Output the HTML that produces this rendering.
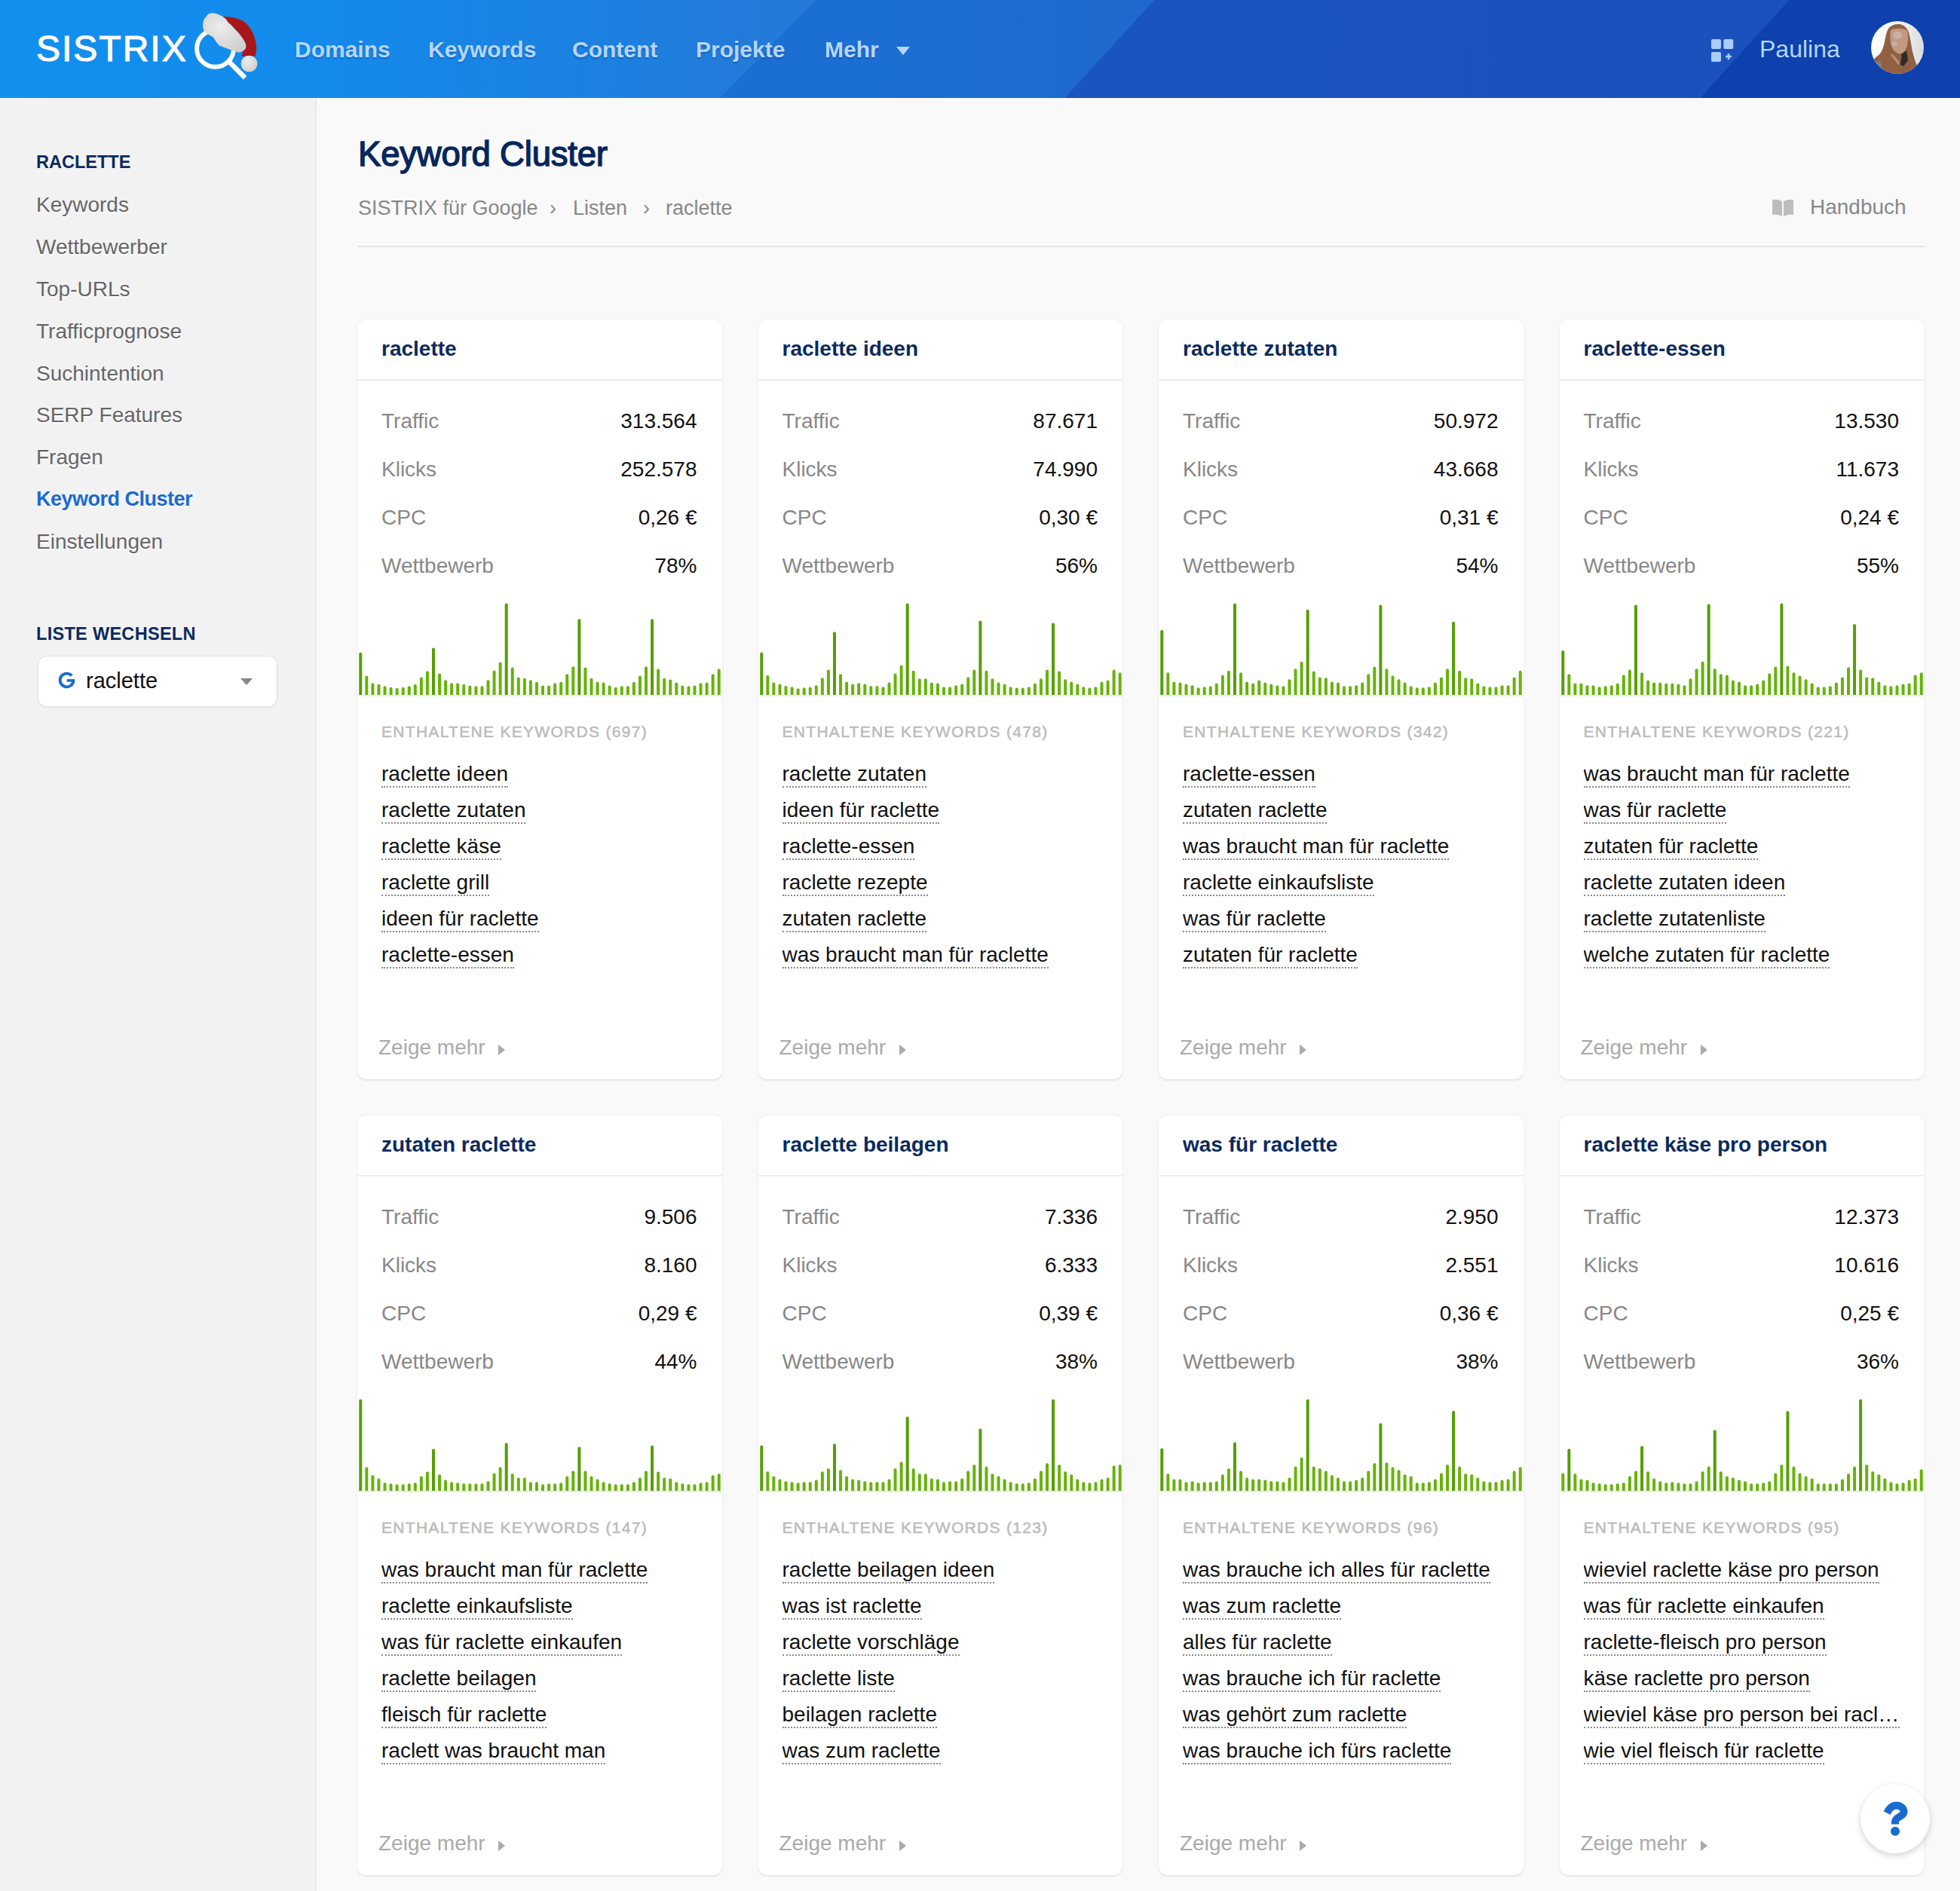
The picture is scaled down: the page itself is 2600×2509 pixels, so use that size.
<!DOCTYPE html>
<html><head><meta charset="utf-8"><title>Keyword Cluster</title>
<style>
*{box-sizing:border-box;margin:0;padding:0}
html,body{width:2600px;height:2509px;overflow:hidden;background:#f9f9f9;font-family:"Liberation Sans",sans-serif;}
.abs{position:absolute;white-space:nowrap;line-height:1}
#hdr{position:absolute;left:0;top:0;width:2600px;height:130px;background:#1190ee;overflow:hidden}
#hdr .band{position:absolute;left:0;top:0;width:2600px;height:130px}
#side{position:absolute;left:0;top:130px;width:420px;height:2379px;background:#f2f2f2;border-right:2px solid #e9e9e9}
.nav{position:absolute;top:51px;font-size:30px;font-weight:bold;color:#b5d6ff;line-height:1;text-shadow:0 2px 2px rgba(0,40,120,.35)}
.si{position:absolute;left:48px;font-size:28px;color:#666;line-height:1;text-shadow:0 2px 0 #fff;white-space:nowrap}
.sh{position:absolute;left:48px;font-size:23.5px;font-weight:bold;color:#0b2a5e;line-height:1;letter-spacing:0px;white-space:nowrap}
.card{position:absolute;width:483.5px;height:1008px;background:#fff;border-radius:12px;box-shadow:0 2px 2px rgba(0,0,0,.06),0 0 4px rgba(0,0,0,.05)}
.ct{position:absolute;left:32px;top:25px;font-size:28px;font-weight:bold;color:#0b2a5e;line-height:1;white-space:nowrap}
.card:before{content:"";position:absolute;left:0;right:0;top:79px;height:2px;background:#ededed}
.row{position:absolute;left:32px;right:33px;height:28px;font-size:28px;line-height:1}
.lb{position:absolute;left:0;top:0;color:#888}
.vl{position:absolute;right:0;top:0;color:#111}
.chwrap{position:absolute;left:0;top:376px;width:484px;height:124px}
.chart{display:block}
.enth{position:absolute;left:32px;top:536px;font-size:21px;line-height:1;color:#bbb;letter-spacing:1.3px;-webkit-text-stroke:0.5px #bbb;white-space:nowrap}
.kw{position:absolute;left:32px;right:32px;font-size:28px;line-height:1;color:#111;white-space:nowrap;overflow:hidden;text-overflow:ellipsis;height:34px}
.kw span{border-bottom:2px dotted #8a8a8a;padding-bottom:1px}
.more{position:absolute;left:28px;top:951.6px;font-size:28px;line-height:1;color:#aaa;white-space:nowrap}
.tri{position:absolute;left:159px;top:10px;width:0;height:0;border-left:9px solid #aaa;border-top:7.5px solid transparent;border-bottom:7.5px solid transparent}
</style></head>
<body>
<div id="hdr">
  <div class="band" style="background:linear-gradient(90deg,#1190ee 0%,#138bec 15%,#1d80e0 32%,#2679d8 41%)"></div>
  <div class="band" style="background:linear-gradient(90deg,#1b73d6 0%,#1c6fd2 45%,#2068cc 58%);clip-path:polygon(1082px 0,1531px 0,1412px 130px,955px 130px)"></div>
  <div class="band" style="background:linear-gradient(90deg,#1858c2 0%,#1a55bf 60%,#1a4fbb 100%);clip-path:polygon(1531px 0,2373px 0,2255px 130px,1412px 130px)"></div>
  <div class="band" style="background:#0e40ae;clip-path:polygon(2373px 0,2600px 0,2600px 130px,2255px 130px)"></div>
  <div class="abs" style="left:48px;top:41px;font-size:48px;font-weight:normal;color:#fff;letter-spacing:2px;-webkit-text-stroke:1.1px #fff">SISTRIX</div>
  <svg class="abs" style="left:250px;top:0px" width="110" height="120" viewBox="250 0 110 120">
    <defs><filter id="fluff" x="-20%" y="-20%" width="140%" height="140%"><feGaussianBlur stdDeviation="0.7"/></filter>
    <radialGradient id="furg" cx="40%" cy="35%" r="70%"><stop offset="0" stop-color="#ececec"/><stop offset="1" stop-color="#cfcfcf"/></radialGradient></defs>
    <circle cx="285.5" cy="64.4" r="24.4" fill="none" stroke="#fff" stroke-width="5.9"/>
    <line x1="302" y1="80" x2="325.1" y2="103.3" stroke="#fff" stroke-width="6.5"/>
    <path d="M295.4 21.9 C305 22 314 23.5 321 27 C330 32 336 42 339 55 C341 63 340 70 338.4 74.5 L320.4 74.5 C322 68 325 62 325.6 57.4 C322 50 316 43 314 41 C310 36 304 31 302.4 29.4 Z" fill="#a8161b"/>
    <path d="M277.9 17.8 C284 16 290 19 295.4 21.9 C300 25 302 28 302.4 29.4 C308 34 311 38 314 41 C319 46 323 52 325.6 57.4 C327 61 326.5 64 324.5 66 C321 69 317 70 314 69 C309 67 305 66 301 64.3 C296 62.5 292 61 290.7 60.3 C287 57 285 52 282.6 49.2 C279 47 276 46 274.4 44.6 C271 42 270 41 270.4 39.9 C269 36 268.5 33 269.2 31.2 C270 27 271 24 273.3 22.5 C275 20 276 19 277.9 17.8 Z" fill="url(#furg)" filter="url(#fluff)"/>
    <circle cx="330.5" cy="84.5" r="10.8" fill="url(#furg)" filter="url(#fluff)"/>
  </svg>
  <div class="nav" style="left:391px">Domains</div>
  <div class="nav" style="left:568px">Keywords</div>
  <div class="nav" style="left:759px">Content</div>
  <div class="nav" style="left:923px">Projekte</div>
  <div class="nav" style="left:1094px">Mehr</div>
  <div class="abs" style="left:1189px;top:62px;width:0;height:0;border-top:11px solid #b5d6ff;border-left:9.5px solid transparent;border-right:9.5px solid transparent"></div>
  <svg class="abs" style="left:2268px;top:50px" width="34" height="34" viewBox="0 0 34 34">
    <rect x="2" y="2" width="13" height="13" rx="2" fill="#a9cdfd"/>
    <rect x="18.3" y="2" width="13" height="13" rx="2" fill="#a9cdfd"/>
    <rect x="2" y="19" width="13" height="13" rx="2" fill="#a9cdfd"/>
    <path d="M25 21v8M21 25h8" stroke="#a9cdfd" stroke-width="2.6"/>
  </svg>
  <div class="abs" style="left:2334px;top:49px;font-size:32px;color:#b5d6ff">Paulina</div>
  <svg class="abs" style="left:2482px;top:28px" width="70" height="70" viewBox="0 0 70 70">
    <defs><clipPath id="avc"><circle cx="35" cy="35" r="35"/></clipPath>
    <linearGradient id="avbg" x1="0" x2="1"><stop offset="0" stop-color="#fdfdfd"/><stop offset=".6" stop-color="#f0f0f0"/><stop offset="1" stop-color="#dcdcdc"/></linearGradient></defs>
    <g clip-path="url(#avc)">
      <rect width="70" height="70" fill="url(#avbg)"/>
      <path d="M36.5 4 C30 4 25 7 23 10 C20 15 19 22 18 28 C16 36 14 42 9 46 C6 48 4 50 2 54 L2 70 L70 70 L62 62 C59 55 56 45 54.5 38 C53 30 52 22 50 15 C48 9 43 4 36.5 4 Z" fill="#8f6142"/>
      <path d="M26 12 C30 9 44 9 48 13 C50 22 49 33 45 39 C42 43 39 44 36 43 C31 41 27 36 26 28 C25 22 25 16 26 12 Z" fill="#c39a81"/>
      <ellipse cx="35" cy="19" rx="6" ry="5" fill="#c8c6c6" opacity=".55"/>
      <ellipse cx="31" cy="30" rx="4" ry="2.5" fill="#cfcfd0" opacity=".45"/>
      <path d="M28 43 C32 47 36 52 39 56 L36 58 C33 54 29 49 26 45 Z" fill="#b98d74"/>
      <path d="M40 44 C43 42 46 40 47 39 L49 52 L43 60 L38 57 C40 52 41 48 40 44 Z" fill="#2e2a28"/>
      <path d="M2 56 L12 52 L17 70 L2 70 Z" fill="#7d7d7d"/>
    </g>
  </svg>
</div>

<div id="side">
  <div class="sh" style="top:74px">RACLETTE</div>
  <div class="si" style="top:128px">Keywords</div>
  <div class="si" style="top:184px">Wettbewerber</div>
  <div class="si" style="top:240px">Top-URLs</div>
  <div class="si" style="top:296px">Trafficprognose</div>
  <div class="si" style="top:352px">Suchintention</div>
  <div class="si" style="top:407px">SERP Features</div>
  <div class="si" style="top:463px">Fragen</div>
  <div class="si" style="top:519px;color:#1a6bd0;font-weight:bold;font-size:27px;letter-spacing:-0.5px">Keyword Cluster</div>
  <div class="si" style="top:575px">Einstellungen</div>
  <div class="sh" style="top:700px;letter-spacing:0.3px">LISTE WECHSELN</div>
  <div class="abs" style="left:50px;top:740px;width:318px;height:68px;background:#fff;border:1px solid #e2e2e2;border-radius:12px;box-shadow:0 1px 2px rgba(0,0,0,.06)"></div>
  <svg class="abs" style="left:70px;top:750px" width="40" height="40" viewBox="70 880 40 40">
    <path d="M95.2 896.6 A8.9 8.9 0 1 0 97.4 902.9" fill="none" stroke="#1a6bd0" stroke-width="3.8"/>
    <path d="M88.6 902.9 H99.2" stroke="#1a6bd0" stroke-width="3.6"/>
  </svg>
  <div class="abs" style="left:114px;top:758.5px;font-size:29px;color:#111">raclette</div>
  <div class="abs" style="left:319px;top:770px;width:0;height:0;border-top:9.5px solid #888;border-left:8px solid transparent;border-right:8px solid transparent"></div>
</div>

<div class="abs" style="left:475px;top:182px;font-size:45.5px;font-weight:normal;color:#06265c;letter-spacing:-0.2px;-webkit-text-stroke:1.4px #06265c">Keyword Cluster</div>
<div class="abs" style="left:475px;top:263px;font-size:27px;color:#888">SISTRIX für Google</div>
<div class="abs" style="left:729px;top:263px;font-size:27px;color:#888">›</div>
<div class="abs" style="left:760px;top:263px;font-size:27px;color:#888">Listen</div>
<div class="abs" style="left:853px;top:263px;font-size:27px;color:#888">›</div>
<div class="abs" style="left:883px;top:263px;font-size:27px;color:#888">raclette</div>
<svg class="abs" style="left:2351px;top:264px" width="29" height="23" viewBox="0 0 29 23">
  <path d="M0 1 Q7 0 13 3 V23 Q7 20 0 21 Z M15 3 Q21 0 28 1 V21 Q21 20 15 23 Z" fill="#bdbdbd"/>
</svg>
<div class="abs" style="left:2401px;top:261px;font-size:28px;color:#888">Handbuch</div>
<div class="abs" style="left:474px;top:326px;width:2078px;height:2px;background:#e3e3e3"></div>

<div class="card" style="left:474.0px;top:424px">
<div class="ct">raclette</div>
<div class="row" style="top:121.3px"><span class="lb">Traffic</span><span class="vl">313.564</span></div>
<div class="row" style="top:185.3px"><span class="lb">Klicks</span><span class="vl">252.578</span></div>
<div class="row" style="top:249.3px"><span class="lb">CPC</span><span class="vl">0,26 €</span></div>
<div class="row" style="top:313.3px"><span class="lb">Wettbewerb</span><span class="vl">78%</span></div>
<div class="chwrap"><svg class="chart" width="484" height="124" viewBox="0 0 483.5 124"><rect x="2.03" y="65.64" width="4" height="58.36" rx="2" fill="#559e06"/><rect x="10.09" y="96.48" width="4" height="27.52" rx="2" fill="#66b30a"/><rect x="18.15" y="106.31" width="4" height="17.69" rx="2" fill="#66b30a"/><rect x="26.20" y="107.64" width="4" height="16.36" rx="2" fill="#66b30a"/><rect x="34.26" y="110.30" width="4" height="13.70" rx="2" fill="#66b30a"/><rect x="42.32" y="111.63" width="4" height="12.37" rx="2" fill="#66b30a"/><rect x="50.38" y="112.69" width="4" height="11.31" rx="2" fill="#66b30a"/><rect x="58.44" y="111.63" width="4" height="12.37" rx="2" fill="#66b30a"/><rect x="66.50" y="110.30" width="4" height="13.70" rx="2" fill="#66b30a"/><rect x="74.55" y="107.64" width="4" height="16.36" rx="2" fill="#66b30a"/><rect x="82.61" y="98.60" width="4" height="25.40" rx="2" fill="#66b30a"/><rect x="90.67" y="90.36" width="4" height="33.64" rx="2" fill="#66b30a"/><rect x="98.73" y="59.52" width="4" height="64.48" rx="2" fill="#559e06"/><rect x="106.79" y="93.55" width="4" height="30.45" rx="2" fill="#66b30a"/><rect x="114.85" y="102.33" width="4" height="21.67" rx="2" fill="#66b30a"/><rect x="122.90" y="106.31" width="4" height="17.69" rx="2" fill="#66b30a"/><rect x="130.96" y="106.31" width="4" height="17.69" rx="2" fill="#66b30a"/><rect x="139.02" y="107.64" width="4" height="16.36" rx="2" fill="#66b30a"/><rect x="147.08" y="109.50" width="4" height="14.50" rx="2" fill="#66b30a"/><rect x="155.14" y="110.30" width="4" height="13.70" rx="2" fill="#66b30a"/><rect x="163.20" y="110.30" width="4" height="13.70" rx="2" fill="#66b30a"/><rect x="171.25" y="102.33" width="4" height="21.67" rx="2" fill="#66b30a"/><rect x="179.31" y="89.56" width="4" height="34.44" rx="2" fill="#66b30a"/><rect x="187.37" y="78.40" width="4" height="45.60" rx="2" fill="#66b30a"/><rect x="195.43" y="0.50" width="4" height="123.50" rx="2" fill="#559e06"/><rect x="203.49" y="85.58" width="4" height="38.42" rx="2" fill="#66b30a"/><rect x="211.55" y="98.60" width="4" height="25.40" rx="2" fill="#66b30a"/><rect x="219.60" y="99.67" width="4" height="24.33" rx="2" fill="#66b30a"/><rect x="227.66" y="102.33" width="4" height="21.67" rx="2" fill="#66b30a"/><rect x="235.72" y="104.72" width="4" height="19.28" rx="2" fill="#66b30a"/><rect x="243.78" y="109.50" width="4" height="14.50" rx="2" fill="#66b30a"/><rect x="251.84" y="109.50" width="4" height="14.50" rx="2" fill="#66b30a"/><rect x="259.90" y="106.31" width="4" height="17.69" rx="2" fill="#66b30a"/><rect x="267.95" y="104.72" width="4" height="19.28" rx="2" fill="#66b30a"/><rect x="276.01" y="94.35" width="4" height="29.65" rx="2" fill="#66b30a"/><rect x="284.07" y="84.25" width="4" height="39.75" rx="2" fill="#66b30a"/><rect x="292.13" y="21.24" width="4" height="102.76" rx="2" fill="#559e06"/><rect x="300.19" y="85.58" width="4" height="38.42" rx="2" fill="#66b30a"/><rect x="308.25" y="99.67" width="4" height="24.33" rx="2" fill="#66b30a"/><rect x="316.30" y="104.72" width="4" height="19.28" rx="2" fill="#66b30a"/><rect x="324.36" y="105.52" width="4" height="18.48" rx="2" fill="#66b30a"/><rect x="332.42" y="109.50" width="4" height="14.50" rx="2" fill="#66b30a"/><rect x="340.48" y="111.63" width="4" height="12.37" rx="2" fill="#66b30a"/><rect x="348.54" y="110.30" width="4" height="13.70" rx="2" fill="#66b30a"/><rect x="356.60" y="110.30" width="4" height="13.70" rx="2" fill="#66b30a"/><rect x="364.65" y="104.72" width="4" height="19.28" rx="2" fill="#66b30a"/><rect x="372.71" y="96.48" width="4" height="27.52" rx="2" fill="#66b30a"/><rect x="380.77" y="84.25" width="4" height="39.75" rx="2" fill="#66b30a"/><rect x="388.83" y="21.24" width="4" height="102.76" rx="2" fill="#559e06"/><rect x="396.89" y="87.44" width="4" height="36.56" rx="2" fill="#66b30a"/><rect x="404.95" y="99.67" width="4" height="24.33" rx="2" fill="#66b30a"/><rect x="413.00" y="101.53" width="4" height="22.47" rx="2" fill="#66b30a"/><rect x="421.06" y="105.52" width="4" height="18.48" rx="2" fill="#66b30a"/><rect x="429.12" y="109.50" width="4" height="14.50" rx="2" fill="#66b30a"/><rect x="437.18" y="110.30" width="4" height="13.70" rx="2" fill="#66b30a"/><rect x="445.24" y="109.50" width="4" height="14.50" rx="2" fill="#66b30a"/><rect x="453.30" y="106.31" width="4" height="17.69" rx="2" fill="#66b30a"/><rect x="461.35" y="105.52" width="4" height="18.48" rx="2" fill="#66b30a"/><rect x="469.41" y="94.35" width="4" height="29.65" rx="2" fill="#66b30a"/><rect x="477.47" y="87.44" width="4" height="36.56" rx="2" fill="#66b30a"/><rect x="0" y="122" width="483.5" height="2" fill="#ececec"/></svg></div>
<div class="enth">ENTHALTENE KEYWORDS (697)</div>
<div class="kw" style="top:589.3px"><span>raclette ideen</span></div>
<div class="kw" style="top:637.3px"><span>raclette zutaten</span></div>
<div class="kw" style="top:685.3px"><span>raclette käse</span></div>
<div class="kw" style="top:733.3px"><span>raclette grill</span></div>
<div class="kw" style="top:781.3px"><span>ideen für raclette</span></div>
<div class="kw" style="top:829.3px"><span>raclette-essen</span></div>
<div class="more">Zeige mehr <i class="tri"></i></div>
</div>
<div class="card" style="left:1005.5px;top:424px">
<div class="ct">raclette ideen</div>
<div class="row" style="top:121.3px"><span class="lb">Traffic</span><span class="vl">87.671</span></div>
<div class="row" style="top:185.3px"><span class="lb">Klicks</span><span class="vl">74.990</span></div>
<div class="row" style="top:249.3px"><span class="lb">CPC</span><span class="vl">0,30 €</span></div>
<div class="row" style="top:313.3px"><span class="lb">Wettbewerb</span><span class="vl">56%</span></div>
<div class="chwrap"><svg class="chart" width="484" height="124" viewBox="0 0 483.5 124"><rect x="2.03" y="65.45" width="4" height="58.55" rx="2" fill="#559e06"/><rect x="10.09" y="96.02" width="4" height="27.98" rx="2" fill="#66b30a"/><rect x="18.15" y="105.44" width="4" height="18.56" rx="2" fill="#66b30a"/><rect x="26.20" y="107.48" width="4" height="16.52" rx="2" fill="#66b30a"/><rect x="34.26" y="110.03" width="4" height="13.97" rx="2" fill="#66b30a"/><rect x="42.32" y="111.30" width="4" height="12.70" rx="2" fill="#66b30a"/><rect x="50.38" y="113.34" width="4" height="10.66" rx="2" fill="#66b30a"/><rect x="58.44" y="112.32" width="4" height="11.68" rx="2" fill="#66b30a"/><rect x="66.50" y="111.56" width="4" height="12.44" rx="2" fill="#66b30a"/><rect x="74.55" y="109.26" width="4" height="14.74" rx="2" fill="#66b30a"/><rect x="82.61" y="99.33" width="4" height="24.67" rx="2" fill="#66b30a"/><rect x="90.67" y="88.38" width="4" height="35.62" rx="2" fill="#66b30a"/><rect x="98.73" y="38.20" width="4" height="85.80" rx="2" fill="#559e06"/><rect x="106.79" y="94.24" width="4" height="29.76" rx="2" fill="#66b30a"/><rect x="114.85" y="104.42" width="4" height="19.58" rx="2" fill="#66b30a"/><rect x="122.90" y="107.48" width="4" height="16.52" rx="2" fill="#66b30a"/><rect x="130.96" y="106.21" width="4" height="17.79" rx="2" fill="#66b30a"/><rect x="139.02" y="107.48" width="4" height="16.52" rx="2" fill="#66b30a"/><rect x="147.08" y="110.03" width="4" height="13.97" rx="2" fill="#66b30a"/><rect x="155.14" y="110.03" width="4" height="13.97" rx="2" fill="#66b30a"/><rect x="163.20" y="111.30" width="4" height="12.70" rx="2" fill="#66b30a"/><rect x="171.25" y="105.44" width="4" height="18.56" rx="2" fill="#66b30a"/><rect x="179.31" y="93.47" width="4" height="30.53" rx="2" fill="#66b30a"/><rect x="187.37" y="82.52" width="4" height="41.48" rx="2" fill="#66b30a"/><rect x="195.43" y="0.50" width="4" height="123.50" rx="2" fill="#559e06"/><rect x="203.49" y="89.65" width="4" height="34.35" rx="2" fill="#66b30a"/><rect x="211.55" y="100.35" width="4" height="23.65" rx="2" fill="#66b30a"/><rect x="219.60" y="100.35" width="4" height="23.65" rx="2" fill="#66b30a"/><rect x="227.66" y="105.44" width="4" height="18.56" rx="2" fill="#66b30a"/><rect x="235.72" y="106.46" width="4" height="17.54" rx="2" fill="#66b30a"/><rect x="243.78" y="111.30" width="4" height="12.70" rx="2" fill="#66b30a"/><rect x="251.84" y="111.30" width="4" height="12.70" rx="2" fill="#66b30a"/><rect x="259.90" y="109.26" width="4" height="14.74" rx="2" fill="#66b30a"/><rect x="267.95" y="107.48" width="4" height="16.52" rx="2" fill="#66b30a"/><rect x="276.01" y="98.57" width="4" height="25.43" rx="2" fill="#66b30a"/><rect x="284.07" y="88.38" width="4" height="35.62" rx="2" fill="#66b30a"/><rect x="292.13" y="23.42" width="4" height="100.58" rx="2" fill="#559e06"/><rect x="300.19" y="89.65" width="4" height="34.35" rx="2" fill="#66b30a"/><rect x="308.25" y="100.35" width="4" height="23.65" rx="2" fill="#66b30a"/><rect x="316.30" y="105.44" width="4" height="18.56" rx="2" fill="#66b30a"/><rect x="324.36" y="107.48" width="4" height="16.52" rx="2" fill="#66b30a"/><rect x="332.42" y="111.30" width="4" height="12.70" rx="2" fill="#66b30a"/><rect x="340.48" y="112.58" width="4" height="11.42" rx="2" fill="#66b30a"/><rect x="348.54" y="112.58" width="4" height="11.42" rx="2" fill="#66b30a"/><rect x="356.60" y="111.30" width="4" height="12.70" rx="2" fill="#66b30a"/><rect x="364.65" y="106.46" width="4" height="17.54" rx="2" fill="#66b30a"/><rect x="372.71" y="100.35" width="4" height="23.65" rx="2" fill="#66b30a"/><rect x="380.77" y="88.38" width="4" height="35.62" rx="2" fill="#66b30a"/><rect x="388.83" y="26.48" width="4" height="97.52" rx="2" fill="#559e06"/><rect x="396.89" y="90.42" width="4" height="33.58" rx="2" fill="#66b30a"/><rect x="404.95" y="101.37" width="4" height="22.63" rx="2" fill="#66b30a"/><rect x="413.00" y="104.42" width="4" height="19.58" rx="2" fill="#66b30a"/><rect x="421.06" y="107.48" width="4" height="16.52" rx="2" fill="#66b30a"/><rect x="429.12" y="111.30" width="4" height="12.70" rx="2" fill="#66b30a"/><rect x="437.18" y="112.58" width="4" height="11.42" rx="2" fill="#66b30a"/><rect x="445.24" y="111.30" width="4" height="12.70" rx="2" fill="#66b30a"/><rect x="453.30" y="104.42" width="4" height="19.58" rx="2" fill="#66b30a"/><rect x="461.35" y="102.39" width="4" height="21.61" rx="2" fill="#66b30a"/><rect x="469.41" y="88.38" width="4" height="35.62" rx="2" fill="#66b30a"/><rect x="477.47" y="92.20" width="4" height="31.80" rx="2" fill="#66b30a"/><rect x="0" y="122" width="483.5" height="2" fill="#ececec"/></svg></div>
<div class="enth">ENTHALTENE KEYWORDS (478)</div>
<div class="kw" style="top:589.3px"><span>raclette zutaten</span></div>
<div class="kw" style="top:637.3px"><span>ideen für raclette</span></div>
<div class="kw" style="top:685.3px"><span>raclette-essen</span></div>
<div class="kw" style="top:733.3px"><span>raclette rezepte</span></div>
<div class="kw" style="top:781.3px"><span>zutaten raclette</span></div>
<div class="kw" style="top:829.3px"><span>was braucht man für raclette</span></div>
<div class="more">Zeige mehr <i class="tri"></i></div>
</div>
<div class="card" style="left:1537.0px;top:424px">
<div class="ct">raclette zutaten</div>
<div class="row" style="top:121.3px"><span class="lb">Traffic</span><span class="vl">50.972</span></div>
<div class="row" style="top:185.3px"><span class="lb">Klicks</span><span class="vl">43.668</span></div>
<div class="row" style="top:249.3px"><span class="lb">CPC</span><span class="vl">0,31 €</span></div>
<div class="row" style="top:313.3px"><span class="lb">Wettbewerb</span><span class="vl">54%</span></div>
<div class="chwrap"><svg class="chart" width="484" height="124" viewBox="0 0 483.5 124"><rect x="2.03" y="35.65" width="4" height="88.35" rx="2" fill="#559e06"/><rect x="10.09" y="92.20" width="4" height="31.80" rx="2" fill="#66b30a"/><rect x="18.15" y="104.42" width="4" height="19.58" rx="2" fill="#66b30a"/><rect x="26.20" y="105.44" width="4" height="18.56" rx="2" fill="#66b30a"/><rect x="34.26" y="107.48" width="4" height="16.52" rx="2" fill="#66b30a"/><rect x="42.32" y="109.26" width="4" height="14.74" rx="2" fill="#66b30a"/><rect x="50.38" y="112.32" width="4" height="11.68" rx="2" fill="#66b30a"/><rect x="58.44" y="111.30" width="4" height="12.70" rx="2" fill="#66b30a"/><rect x="66.50" y="110.28" width="4" height="13.72" rx="2" fill="#66b30a"/><rect x="74.55" y="106.46" width="4" height="17.54" rx="2" fill="#66b30a"/><rect x="82.61" y="95.51" width="4" height="28.49" rx="2" fill="#66b30a"/><rect x="90.67" y="89.65" width="4" height="34.35" rx="2" fill="#66b30a"/><rect x="98.73" y="0.50" width="4" height="123.50" rx="2" fill="#559e06"/><rect x="106.79" y="92.20" width="4" height="31.80" rx="2" fill="#66b30a"/><rect x="114.85" y="104.42" width="4" height="19.58" rx="2" fill="#66b30a"/><rect x="122.90" y="106.46" width="4" height="17.54" rx="2" fill="#66b30a"/><rect x="130.96" y="102.39" width="4" height="21.61" rx="2" fill="#66b30a"/><rect x="139.02" y="105.44" width="4" height="18.56" rx="2" fill="#66b30a"/><rect x="147.08" y="107.48" width="4" height="16.52" rx="2" fill="#66b30a"/><rect x="155.14" y="109.26" width="4" height="14.74" rx="2" fill="#66b30a"/><rect x="163.20" y="110.28" width="4" height="13.72" rx="2" fill="#66b30a"/><rect x="171.25" y="101.37" width="4" height="22.63" rx="2" fill="#66b30a"/><rect x="179.31" y="87.36" width="4" height="36.64" rx="2" fill="#66b30a"/><rect x="187.37" y="77.68" width="4" height="46.32" rx="2" fill="#66b30a"/><rect x="195.43" y="8.65" width="4" height="115.35" rx="2" fill="#559e06"/><rect x="203.49" y="90.42" width="4" height="33.58" rx="2" fill="#66b30a"/><rect x="211.55" y="98.57" width="4" height="25.43" rx="2" fill="#66b30a"/><rect x="219.60" y="99.33" width="4" height="24.67" rx="2" fill="#66b30a"/><rect x="227.66" y="104.42" width="4" height="19.58" rx="2" fill="#66b30a"/><rect x="235.72" y="105.44" width="4" height="18.56" rx="2" fill="#66b30a"/><rect x="243.78" y="110.28" width="4" height="13.72" rx="2" fill="#66b30a"/><rect x="251.84" y="110.28" width="4" height="13.72" rx="2" fill="#66b30a"/><rect x="259.90" y="109.26" width="4" height="14.74" rx="2" fill="#66b30a"/><rect x="267.95" y="105.44" width="4" height="18.56" rx="2" fill="#66b30a"/><rect x="276.01" y="94.24" width="4" height="29.76" rx="2" fill="#66b30a"/><rect x="284.07" y="84.56" width="4" height="39.44" rx="2" fill="#66b30a"/><rect x="292.13" y="2.54" width="4" height="121.46" rx="2" fill="#559e06"/><rect x="300.19" y="87.36" width="4" height="36.64" rx="2" fill="#66b30a"/><rect x="308.25" y="96.53" width="4" height="27.47" rx="2" fill="#66b30a"/><rect x="316.30" y="101.37" width="4" height="22.63" rx="2" fill="#66b30a"/><rect x="324.36" y="105.44" width="4" height="18.56" rx="2" fill="#66b30a"/><rect x="332.42" y="110.28" width="4" height="13.72" rx="2" fill="#66b30a"/><rect x="340.48" y="112.32" width="4" height="11.68" rx="2" fill="#66b30a"/><rect x="348.54" y="112.32" width="4" height="11.68" rx="2" fill="#66b30a"/><rect x="356.60" y="111.30" width="4" height="12.70" rx="2" fill="#66b30a"/><rect x="364.65" y="105.44" width="4" height="18.56" rx="2" fill="#66b30a"/><rect x="372.71" y="98.57" width="4" height="25.43" rx="2" fill="#66b30a"/><rect x="380.77" y="87.36" width="4" height="36.64" rx="2" fill="#66b30a"/><rect x="388.83" y="24.70" width="4" height="99.30" rx="2" fill="#559e06"/><rect x="396.89" y="89.65" width="4" height="34.35" rx="2" fill="#66b30a"/><rect x="404.95" y="99.33" width="4" height="24.67" rx="2" fill="#66b30a"/><rect x="413.00" y="100.35" width="4" height="23.65" rx="2" fill="#66b30a"/><rect x="421.06" y="106.46" width="4" height="17.54" rx="2" fill="#66b30a"/><rect x="429.12" y="110.28" width="4" height="13.72" rx="2" fill="#66b30a"/><rect x="437.18" y="111.30" width="4" height="12.70" rx="2" fill="#66b30a"/><rect x="445.24" y="111.30" width="4" height="12.70" rx="2" fill="#66b30a"/><rect x="453.30" y="109.26" width="4" height="14.74" rx="2" fill="#66b30a"/><rect x="461.35" y="109.26" width="4" height="14.74" rx="2" fill="#66b30a"/><rect x="469.41" y="98.57" width="4" height="25.43" rx="2" fill="#66b30a"/><rect x="477.47" y="89.65" width="4" height="34.35" rx="2" fill="#66b30a"/><rect x="0" y="122" width="483.5" height="2" fill="#ececec"/></svg></div>
<div class="enth">ENTHALTENE KEYWORDS (342)</div>
<div class="kw" style="top:589.3px"><span>raclette-essen</span></div>
<div class="kw" style="top:637.3px"><span>zutaten raclette</span></div>
<div class="kw" style="top:685.3px"><span>was braucht man für raclette</span></div>
<div class="kw" style="top:733.3px"><span>raclette einkaufsliste</span></div>
<div class="kw" style="top:781.3px"><span>was für raclette</span></div>
<div class="kw" style="top:829.3px"><span>zutaten für raclette</span></div>
<div class="more">Zeige mehr <i class="tri"></i></div>
</div>
<div class="card" style="left:2068.5px;top:424px">
<div class="ct">raclette-essen</div>
<div class="row" style="top:121.3px"><span class="lb">Traffic</span><span class="vl">13.530</span></div>
<div class="row" style="top:185.3px"><span class="lb">Klicks</span><span class="vl">11.673</span></div>
<div class="row" style="top:249.3px"><span class="lb">CPC</span><span class="vl">0,24 €</span></div>
<div class="row" style="top:313.3px"><span class="lb">Wettbewerb</span><span class="vl">55%</span></div>
<div class="chwrap"><svg class="chart" width="484" height="124" viewBox="0 0 483.5 124"><rect x="2.03" y="62.91" width="4" height="61.09" rx="2" fill="#559e06"/><rect x="10.09" y="94.24" width="4" height="29.76" rx="2" fill="#66b30a"/><rect x="18.15" y="106.46" width="4" height="17.54" rx="2" fill="#66b30a"/><rect x="26.20" y="106.46" width="4" height="17.54" rx="2" fill="#66b30a"/><rect x="34.26" y="109.26" width="4" height="14.74" rx="2" fill="#66b30a"/><rect x="42.32" y="109.26" width="4" height="14.74" rx="2" fill="#66b30a"/><rect x="50.38" y="111.30" width="4" height="12.70" rx="2" fill="#66b30a"/><rect x="58.44" y="110.28" width="4" height="13.72" rx="2" fill="#66b30a"/><rect x="66.50" y="109.26" width="4" height="14.74" rx="2" fill="#66b30a"/><rect x="74.55" y="106.46" width="4" height="17.54" rx="2" fill="#66b30a"/><rect x="82.61" y="95.51" width="4" height="28.49" rx="2" fill="#66b30a"/><rect x="90.67" y="88.38" width="4" height="35.62" rx="2" fill="#66b30a"/><rect x="98.73" y="2.54" width="4" height="121.46" rx="2" fill="#559e06"/><rect x="106.79" y="92.20" width="4" height="31.80" rx="2" fill="#66b30a"/><rect x="114.85" y="102.39" width="4" height="21.61" rx="2" fill="#66b30a"/><rect x="122.90" y="105.44" width="4" height="18.56" rx="2" fill="#66b30a"/><rect x="130.96" y="105.44" width="4" height="18.56" rx="2" fill="#66b30a"/><rect x="139.02" y="106.46" width="4" height="17.54" rx="2" fill="#66b30a"/><rect x="147.08" y="106.46" width="4" height="17.54" rx="2" fill="#66b30a"/><rect x="155.14" y="107.48" width="4" height="16.52" rx="2" fill="#66b30a"/><rect x="163.20" y="109.26" width="4" height="14.74" rx="2" fill="#66b30a"/><rect x="171.25" y="100.35" width="4" height="23.65" rx="2" fill="#66b30a"/><rect x="179.31" y="87.36" width="4" height="36.64" rx="2" fill="#66b30a"/><rect x="187.37" y="77.68" width="4" height="46.32" rx="2" fill="#66b30a"/><rect x="195.43" y="1.52" width="4" height="122.48" rx="2" fill="#559e06"/><rect x="203.49" y="87.36" width="4" height="36.64" rx="2" fill="#66b30a"/><rect x="211.55" y="94.24" width="4" height="29.76" rx="2" fill="#66b30a"/><rect x="219.60" y="95.51" width="4" height="28.49" rx="2" fill="#66b30a"/><rect x="227.66" y="102.39" width="4" height="21.61" rx="2" fill="#66b30a"/><rect x="235.72" y="104.42" width="4" height="19.58" rx="2" fill="#66b30a"/><rect x="243.78" y="109.26" width="4" height="14.74" rx="2" fill="#66b30a"/><rect x="251.84" y="109.26" width="4" height="14.74" rx="2" fill="#66b30a"/><rect x="259.90" y="107.48" width="4" height="16.52" rx="2" fill="#66b30a"/><rect x="267.95" y="102.39" width="4" height="21.61" rx="2" fill="#66b30a"/><rect x="276.01" y="93.47" width="4" height="30.53" rx="2" fill="#66b30a"/><rect x="284.07" y="84.56" width="4" height="39.44" rx="2" fill="#66b30a"/><rect x="292.13" y="0.50" width="4" height="123.50" rx="2" fill="#559e06"/><rect x="300.19" y="83.54" width="4" height="40.46" rx="2" fill="#66b30a"/><rect x="308.25" y="92.20" width="4" height="31.80" rx="2" fill="#66b30a"/><rect x="316.30" y="96.53" width="4" height="27.47" rx="2" fill="#66b30a"/><rect x="324.36" y="101.37" width="4" height="22.63" rx="2" fill="#66b30a"/><rect x="332.42" y="106.46" width="4" height="17.54" rx="2" fill="#66b30a"/><rect x="340.48" y="111.30" width="4" height="12.70" rx="2" fill="#66b30a"/><rect x="348.54" y="111.30" width="4" height="12.70" rx="2" fill="#66b30a"/><rect x="356.60" y="110.28" width="4" height="13.72" rx="2" fill="#66b30a"/><rect x="364.65" y="105.44" width="4" height="18.56" rx="2" fill="#66b30a"/><rect x="372.71" y="98.57" width="4" height="25.43" rx="2" fill="#66b30a"/><rect x="380.77" y="85.32" width="4" height="38.68" rx="2" fill="#66b30a"/><rect x="388.83" y="28.01" width="4" height="95.99" rx="2" fill="#559e06"/><rect x="396.89" y="88.38" width="4" height="35.62" rx="2" fill="#66b30a"/><rect x="404.95" y="98.57" width="4" height="25.43" rx="2" fill="#66b30a"/><rect x="413.00" y="99.33" width="4" height="24.67" rx="2" fill="#66b30a"/><rect x="421.06" y="104.42" width="4" height="19.58" rx="2" fill="#66b30a"/><rect x="429.12" y="109.26" width="4" height="14.74" rx="2" fill="#66b30a"/><rect x="437.18" y="110.28" width="4" height="13.72" rx="2" fill="#66b30a"/><rect x="445.24" y="109.26" width="4" height="14.74" rx="2" fill="#66b30a"/><rect x="453.30" y="107.48" width="4" height="16.52" rx="2" fill="#66b30a"/><rect x="461.35" y="106.46" width="4" height="17.54" rx="2" fill="#66b30a"/><rect x="469.41" y="95.51" width="4" height="28.49" rx="2" fill="#66b30a"/><rect x="477.47" y="92.20" width="4" height="31.80" rx="2" fill="#66b30a"/><rect x="0" y="122" width="483.5" height="2" fill="#ececec"/></svg></div>
<div class="enth">ENTHALTENE KEYWORDS (221)</div>
<div class="kw" style="top:589.3px"><span>was braucht man für raclette</span></div>
<div class="kw" style="top:637.3px"><span>was für raclette</span></div>
<div class="kw" style="top:685.3px"><span>zutaten für raclette</span></div>
<div class="kw" style="top:733.3px"><span>raclette zutaten ideen</span></div>
<div class="kw" style="top:781.3px"><span>raclette zutatenliste</span></div>
<div class="kw" style="top:829.3px"><span>welche zutaten für raclette</span></div>
<div class="more">Zeige mehr <i class="tri"></i></div>
</div>
<div class="card" style="left:474.0px;top:1480px">
<div class="ct">zutaten raclette</div>
<div class="row" style="top:121.3px"><span class="lb">Traffic</span><span class="vl">9.506</span></div>
<div class="row" style="top:185.3px"><span class="lb">Klicks</span><span class="vl">8.160</span></div>
<div class="row" style="top:249.3px"><span class="lb">CPC</span><span class="vl">0,29 €</span></div>
<div class="row" style="top:313.3px"><span class="lb">Wettbewerb</span><span class="vl">44%</span></div>
<div class="chwrap"><svg class="chart" width="484" height="124" viewBox="0 0 483.5 124"><rect x="2.03" y="0.50" width="4" height="123.50" rx="2" fill="#559e06"/><rect x="10.09" y="90.42" width="4" height="33.58" rx="2" fill="#66b30a"/><rect x="18.15" y="101.37" width="4" height="22.63" rx="2" fill="#66b30a"/><rect x="26.20" y="105.44" width="4" height="18.56" rx="2" fill="#66b30a"/><rect x="34.26" y="111.30" width="4" height="12.70" rx="2" fill="#66b30a"/><rect x="42.32" y="112.32" width="4" height="11.68" rx="2" fill="#66b30a"/><rect x="50.38" y="113.34" width="4" height="10.66" rx="2" fill="#66b30a"/><rect x="58.44" y="113.34" width="4" height="10.66" rx="2" fill="#66b30a"/><rect x="66.50" y="112.32" width="4" height="11.68" rx="2" fill="#66b30a"/><rect x="74.55" y="111.30" width="4" height="12.70" rx="2" fill="#66b30a"/><rect x="82.61" y="102.39" width="4" height="21.61" rx="2" fill="#66b30a"/><rect x="90.67" y="96.53" width="4" height="27.47" rx="2" fill="#66b30a"/><rect x="98.73" y="66.22" width="4" height="57.78" rx="2" fill="#559e06"/><rect x="106.79" y="100.35" width="4" height="23.65" rx="2" fill="#66b30a"/><rect x="114.85" y="107.48" width="4" height="16.52" rx="2" fill="#66b30a"/><rect x="122.90" y="110.28" width="4" height="13.72" rx="2" fill="#66b30a"/><rect x="130.96" y="111.30" width="4" height="12.70" rx="2" fill="#66b30a"/><rect x="139.02" y="112.32" width="4" height="11.68" rx="2" fill="#66b30a"/><rect x="147.08" y="112.32" width="4" height="11.68" rx="2" fill="#66b30a"/><rect x="155.14" y="112.32" width="4" height="11.68" rx="2" fill="#66b30a"/><rect x="163.20" y="112.32" width="4" height="11.68" rx="2" fill="#66b30a"/><rect x="171.25" y="109.26" width="4" height="14.74" rx="2" fill="#66b30a"/><rect x="179.31" y="98.57" width="4" height="25.43" rx="2" fill="#66b30a"/><rect x="187.37" y="90.42" width="4" height="33.58" rx="2" fill="#66b30a"/><rect x="195.43" y="58.58" width="4" height="65.42" rx="2" fill="#559e06"/><rect x="203.49" y="99.33" width="4" height="24.67" rx="2" fill="#66b30a"/><rect x="211.55" y="104.42" width="4" height="19.58" rx="2" fill="#66b30a"/><rect x="219.60" y="104.42" width="4" height="19.58" rx="2" fill="#66b30a"/><rect x="227.66" y="110.28" width="4" height="13.72" rx="2" fill="#66b30a"/><rect x="235.72" y="110.28" width="4" height="13.72" rx="2" fill="#66b30a"/><rect x="243.78" y="113.34" width="4" height="10.66" rx="2" fill="#66b30a"/><rect x="251.84" y="112.32" width="4" height="11.68" rx="2" fill="#66b30a"/><rect x="259.90" y="112.32" width="4" height="11.68" rx="2" fill="#66b30a"/><rect x="267.95" y="111.30" width="4" height="12.70" rx="2" fill="#66b30a"/><rect x="276.01" y="102.39" width="4" height="21.61" rx="2" fill="#66b30a"/><rect x="284.07" y="95.51" width="4" height="28.49" rx="2" fill="#66b30a"/><rect x="292.13" y="63.67" width="4" height="60.33" rx="2" fill="#559e06"/><rect x="300.19" y="95.51" width="4" height="28.49" rx="2" fill="#66b30a"/><rect x="308.25" y="102.39" width="4" height="21.61" rx="2" fill="#66b30a"/><rect x="316.30" y="106.46" width="4" height="17.54" rx="2" fill="#66b30a"/><rect x="324.36" y="110.28" width="4" height="13.72" rx="2" fill="#66b30a"/><rect x="332.42" y="112.32" width="4" height="11.68" rx="2" fill="#66b30a"/><rect x="340.48" y="113.34" width="4" height="10.66" rx="2" fill="#66b30a"/><rect x="348.54" y="113.34" width="4" height="10.66" rx="2" fill="#66b30a"/><rect x="356.60" y="113.34" width="4" height="10.66" rx="2" fill="#66b30a"/><rect x="364.65" y="110.28" width="4" height="13.72" rx="2" fill="#66b30a"/><rect x="372.71" y="104.42" width="4" height="19.58" rx="2" fill="#66b30a"/><rect x="380.77" y="95.51" width="4" height="28.49" rx="2" fill="#66b30a"/><rect x="388.83" y="61.63" width="4" height="62.37" rx="2" fill="#559e06"/><rect x="396.89" y="96.53" width="4" height="27.47" rx="2" fill="#66b30a"/><rect x="404.95" y="104.42" width="4" height="19.58" rx="2" fill="#66b30a"/><rect x="413.00" y="105.44" width="4" height="18.56" rx="2" fill="#66b30a"/><rect x="421.06" y="110.28" width="4" height="13.72" rx="2" fill="#66b30a"/><rect x="429.12" y="112.32" width="4" height="11.68" rx="2" fill="#66b30a"/><rect x="437.18" y="113.34" width="4" height="10.66" rx="2" fill="#66b30a"/><rect x="445.24" y="113.34" width="4" height="10.66" rx="2" fill="#66b30a"/><rect x="453.30" y="111.30" width="4" height="12.70" rx="2" fill="#66b30a"/><rect x="461.35" y="110.28" width="4" height="13.72" rx="2" fill="#66b30a"/><rect x="469.41" y="101.37" width="4" height="22.63" rx="2" fill="#66b30a"/><rect x="477.47" y="99.33" width="4" height="24.67" rx="2" fill="#66b30a"/><rect x="0" y="122" width="483.5" height="2" fill="#ececec"/></svg></div>
<div class="enth">ENTHALTENE KEYWORDS (147)</div>
<div class="kw" style="top:589.3px"><span>was braucht man für raclette</span></div>
<div class="kw" style="top:637.3px"><span>raclette einkaufsliste</span></div>
<div class="kw" style="top:685.3px"><span>was für raclette einkaufen</span></div>
<div class="kw" style="top:733.3px"><span>raclette beilagen</span></div>
<div class="kw" style="top:781.3px"><span>fleisch für raclette</span></div>
<div class="kw" style="top:829.3px"><span>raclett was braucht man</span></div>
<div class="more">Zeige mehr <i class="tri"></i></div>
</div>
<div class="card" style="left:1005.5px;top:1480px">
<div class="ct">raclette beilagen</div>
<div class="row" style="top:121.3px"><span class="lb">Traffic</span><span class="vl">7.336</span></div>
<div class="row" style="top:185.3px"><span class="lb">Klicks</span><span class="vl">6.333</span></div>
<div class="row" style="top:249.3px"><span class="lb">CPC</span><span class="vl">0,39 €</span></div>
<div class="row" style="top:313.3px"><span class="lb">Wettbewerb</span><span class="vl">38%</span></div>
<div class="chwrap"><svg class="chart" width="484" height="124" viewBox="0 0 483.5 124"><rect x="2.03" y="61.63" width="4" height="62.37" rx="2" fill="#559e06"/><rect x="10.09" y="96.27" width="4" height="27.73" rx="2" fill="#66b30a"/><rect x="18.15" y="102.39" width="4" height="21.61" rx="2" fill="#66b30a"/><rect x="26.20" y="106.46" width="4" height="17.54" rx="2" fill="#66b30a"/><rect x="34.26" y="109.26" width="4" height="14.74" rx="2" fill="#66b30a"/><rect x="42.32" y="110.28" width="4" height="13.72" rx="2" fill="#66b30a"/><rect x="50.38" y="111.30" width="4" height="12.70" rx="2" fill="#66b30a"/><rect x="58.44" y="110.28" width="4" height="13.72" rx="2" fill="#66b30a"/><rect x="66.50" y="110.28" width="4" height="13.72" rx="2" fill="#66b30a"/><rect x="74.55" y="107.48" width="4" height="16.52" rx="2" fill="#66b30a"/><rect x="82.61" y="96.27" width="4" height="27.73" rx="2" fill="#66b30a"/><rect x="90.67" y="92.20" width="4" height="31.80" rx="2" fill="#66b30a"/><rect x="98.73" y="59.59" width="4" height="64.41" rx="2" fill="#559e06"/><rect x="106.79" y="94.24" width="4" height="29.76" rx="2" fill="#66b30a"/><rect x="114.85" y="102.39" width="4" height="21.61" rx="2" fill="#66b30a"/><rect x="122.90" y="106.46" width="4" height="17.54" rx="2" fill="#66b30a"/><rect x="130.96" y="107.48" width="4" height="16.52" rx="2" fill="#66b30a"/><rect x="139.02" y="109.26" width="4" height="14.74" rx="2" fill="#66b30a"/><rect x="147.08" y="110.28" width="4" height="13.72" rx="2" fill="#66b30a"/><rect x="155.14" y="110.28" width="4" height="13.72" rx="2" fill="#66b30a"/><rect x="163.20" y="110.28" width="4" height="13.72" rx="2" fill="#66b30a"/><rect x="171.25" y="106.46" width="4" height="17.54" rx="2" fill="#66b30a"/><rect x="179.31" y="92.20" width="4" height="31.80" rx="2" fill="#66b30a"/><rect x="187.37" y="83.54" width="4" height="40.46" rx="2" fill="#66b30a"/><rect x="195.43" y="23.42" width="4" height="100.58" rx="2" fill="#559e06"/><rect x="203.49" y="92.20" width="4" height="31.80" rx="2" fill="#66b30a"/><rect x="211.55" y="99.33" width="4" height="24.67" rx="2" fill="#66b30a"/><rect x="219.60" y="99.33" width="4" height="24.67" rx="2" fill="#66b30a"/><rect x="227.66" y="105.44" width="4" height="18.56" rx="2" fill="#66b30a"/><rect x="235.72" y="106.46" width="4" height="17.54" rx="2" fill="#66b30a"/><rect x="243.78" y="110.28" width="4" height="13.72" rx="2" fill="#66b30a"/><rect x="251.84" y="109.26" width="4" height="14.74" rx="2" fill="#66b30a"/><rect x="259.90" y="109.26" width="4" height="14.74" rx="2" fill="#66b30a"/><rect x="267.95" y="105.44" width="4" height="18.56" rx="2" fill="#66b30a"/><rect x="276.01" y="95.51" width="4" height="28.49" rx="2" fill="#66b30a"/><rect x="284.07" y="87.36" width="4" height="36.64" rx="2" fill="#66b30a"/><rect x="292.13" y="39.47" width="4" height="84.53" rx="2" fill="#559e06"/><rect x="300.19" y="89.65" width="4" height="34.35" rx="2" fill="#66b30a"/><rect x="308.25" y="99.33" width="4" height="24.67" rx="2" fill="#66b30a"/><rect x="316.30" y="102.39" width="4" height="21.61" rx="2" fill="#66b30a"/><rect x="324.36" y="106.46" width="4" height="17.54" rx="2" fill="#66b30a"/><rect x="332.42" y="110.28" width="4" height="13.72" rx="2" fill="#66b30a"/><rect x="340.48" y="112.32" width="4" height="11.68" rx="2" fill="#66b30a"/><rect x="348.54" y="112.32" width="4" height="11.68" rx="2" fill="#66b30a"/><rect x="356.60" y="111.30" width="4" height="12.70" rx="2" fill="#66b30a"/><rect x="364.65" y="105.44" width="4" height="18.56" rx="2" fill="#66b30a"/><rect x="372.71" y="95.51" width="4" height="28.49" rx="2" fill="#66b30a"/><rect x="380.77" y="85.32" width="4" height="38.68" rx="2" fill="#66b30a"/><rect x="388.83" y="0.50" width="4" height="123.50" rx="2" fill="#559e06"/><rect x="396.89" y="87.36" width="4" height="36.64" rx="2" fill="#66b30a"/><rect x="404.95" y="96.27" width="4" height="27.73" rx="2" fill="#66b30a"/><rect x="413.00" y="100.35" width="4" height="23.65" rx="2" fill="#66b30a"/><rect x="421.06" y="106.46" width="4" height="17.54" rx="2" fill="#66b30a"/><rect x="429.12" y="110.28" width="4" height="13.72" rx="2" fill="#66b30a"/><rect x="437.18" y="111.30" width="4" height="12.70" rx="2" fill="#66b30a"/><rect x="445.24" y="110.28" width="4" height="13.72" rx="2" fill="#66b30a"/><rect x="453.30" y="106.46" width="4" height="17.54" rx="2" fill="#66b30a"/><rect x="461.35" y="104.42" width="4" height="19.58" rx="2" fill="#66b30a"/><rect x="469.41" y="88.38" width="4" height="35.62" rx="2" fill="#66b30a"/><rect x="477.47" y="87.36" width="4" height="36.64" rx="2" fill="#66b30a"/><rect x="0" y="122" width="483.5" height="2" fill="#ececec"/></svg></div>
<div class="enth">ENTHALTENE KEYWORDS (123)</div>
<div class="kw" style="top:589.3px"><span>raclette beilagen ideen</span></div>
<div class="kw" style="top:637.3px"><span>was ist raclette</span></div>
<div class="kw" style="top:685.3px"><span>raclette vorschläge</span></div>
<div class="kw" style="top:733.3px"><span>raclette liste</span></div>
<div class="kw" style="top:781.3px"><span>beilagen raclette</span></div>
<div class="kw" style="top:829.3px"><span>was zum raclette</span></div>
<div class="more">Zeige mehr <i class="tri"></i></div>
</div>
<div class="card" style="left:1537.0px;top:1480px">
<div class="ct">was für raclette</div>
<div class="row" style="top:121.3px"><span class="lb">Traffic</span><span class="vl">2.950</span></div>
<div class="row" style="top:185.3px"><span class="lb">Klicks</span><span class="vl">2.551</span></div>
<div class="row" style="top:249.3px"><span class="lb">CPC</span><span class="vl">0,36 €</span></div>
<div class="row" style="top:313.3px"><span class="lb">Wettbewerb</span><span class="vl">38%</span></div>
<div class="chwrap"><svg class="chart" width="484" height="124" viewBox="0 0 483.5 124"><rect x="2.03" y="65.45" width="4" height="58.55" rx="2" fill="#559e06"/><rect x="10.09" y="99.33" width="4" height="24.67" rx="2" fill="#66b30a"/><rect x="18.15" y="106.46" width="4" height="17.54" rx="2" fill="#66b30a"/><rect x="26.20" y="106.46" width="4" height="17.54" rx="2" fill="#66b30a"/><rect x="34.26" y="110.28" width="4" height="13.72" rx="2" fill="#66b30a"/><rect x="42.32" y="109.26" width="4" height="14.74" rx="2" fill="#66b30a"/><rect x="50.38" y="111.30" width="4" height="12.70" rx="2" fill="#66b30a"/><rect x="58.44" y="110.28" width="4" height="13.72" rx="2" fill="#66b30a"/><rect x="66.50" y="110.28" width="4" height="13.72" rx="2" fill="#66b30a"/><rect x="74.55" y="109.26" width="4" height="14.74" rx="2" fill="#66b30a"/><rect x="82.61" y="100.35" width="4" height="23.65" rx="2" fill="#66b30a"/><rect x="90.67" y="92.20" width="4" height="31.80" rx="2" fill="#66b30a"/><rect x="98.73" y="57.56" width="4" height="66.44" rx="2" fill="#559e06"/><rect x="106.79" y="95.51" width="4" height="28.49" rx="2" fill="#66b30a"/><rect x="114.85" y="104.42" width="4" height="19.58" rx="2" fill="#66b30a"/><rect x="122.90" y="106.46" width="4" height="17.54" rx="2" fill="#66b30a"/><rect x="130.96" y="106.46" width="4" height="17.54" rx="2" fill="#66b30a"/><rect x="139.02" y="107.48" width="4" height="16.52" rx="2" fill="#66b30a"/><rect x="147.08" y="109.26" width="4" height="14.74" rx="2" fill="#66b30a"/><rect x="155.14" y="109.26" width="4" height="14.74" rx="2" fill="#66b30a"/><rect x="163.20" y="110.28" width="4" height="13.72" rx="2" fill="#66b30a"/><rect x="171.25" y="104.42" width="4" height="19.58" rx="2" fill="#66b30a"/><rect x="179.31" y="89.65" width="4" height="34.35" rx="2" fill="#66b30a"/><rect x="187.37" y="77.68" width="4" height="46.32" rx="2" fill="#66b30a"/><rect x="195.43" y="0.50" width="4" height="123.50" rx="2" fill="#559e06"/><rect x="203.49" y="89.65" width="4" height="34.35" rx="2" fill="#66b30a"/><rect x="211.55" y="92.20" width="4" height="31.80" rx="2" fill="#66b30a"/><rect x="219.60" y="95.51" width="4" height="28.49" rx="2" fill="#66b30a"/><rect x="227.66" y="101.37" width="4" height="22.63" rx="2" fill="#66b30a"/><rect x="235.72" y="104.42" width="4" height="19.58" rx="2" fill="#66b30a"/><rect x="243.78" y="109.26" width="4" height="14.74" rx="2" fill="#66b30a"/><rect x="251.84" y="109.26" width="4" height="14.74" rx="2" fill="#66b30a"/><rect x="259.90" y="107.48" width="4" height="16.52" rx="2" fill="#66b30a"/><rect x="267.95" y="104.42" width="4" height="19.58" rx="2" fill="#66b30a"/><rect x="276.01" y="95.51" width="4" height="28.49" rx="2" fill="#66b30a"/><rect x="284.07" y="85.32" width="4" height="38.68" rx="2" fill="#66b30a"/><rect x="292.13" y="32.34" width="4" height="91.66" rx="2" fill="#559e06"/><rect x="300.19" y="84.56" width="4" height="39.44" rx="2" fill="#66b30a"/><rect x="308.25" y="90.42" width="4" height="33.58" rx="2" fill="#66b30a"/><rect x="316.30" y="94.24" width="4" height="29.76" rx="2" fill="#66b30a"/><rect x="324.36" y="100.35" width="4" height="23.65" rx="2" fill="#66b30a"/><rect x="332.42" y="102.39" width="4" height="21.61" rx="2" fill="#66b30a"/><rect x="340.48" y="111.30" width="4" height="12.70" rx="2" fill="#66b30a"/><rect x="348.54" y="111.30" width="4" height="12.70" rx="2" fill="#66b30a"/><rect x="356.60" y="110.28" width="4" height="13.72" rx="2" fill="#66b30a"/><rect x="364.65" y="106.46" width="4" height="17.54" rx="2" fill="#66b30a"/><rect x="372.71" y="98.57" width="4" height="25.43" rx="2" fill="#66b30a"/><rect x="380.77" y="87.36" width="4" height="36.64" rx="2" fill="#66b30a"/><rect x="388.83" y="15.78" width="4" height="108.22" rx="2" fill="#559e06"/><rect x="396.89" y="89.65" width="4" height="34.35" rx="2" fill="#66b30a"/><rect x="404.95" y="99.33" width="4" height="24.67" rx="2" fill="#66b30a"/><rect x="413.00" y="100.35" width="4" height="23.65" rx="2" fill="#66b30a"/><rect x="421.06" y="104.42" width="4" height="19.58" rx="2" fill="#66b30a"/><rect x="429.12" y="109.26" width="4" height="14.74" rx="2" fill="#66b30a"/><rect x="437.18" y="110.28" width="4" height="13.72" rx="2" fill="#66b30a"/><rect x="445.24" y="110.28" width="4" height="13.72" rx="2" fill="#66b30a"/><rect x="453.30" y="107.48" width="4" height="16.52" rx="2" fill="#66b30a"/><rect x="461.35" y="106.46" width="4" height="17.54" rx="2" fill="#66b30a"/><rect x="469.41" y="95.51" width="4" height="28.49" rx="2" fill="#66b30a"/><rect x="477.47" y="90.42" width="4" height="33.58" rx="2" fill="#66b30a"/><rect x="0" y="122" width="483.5" height="2" fill="#ececec"/></svg></div>
<div class="enth">ENTHALTENE KEYWORDS (96)</div>
<div class="kw" style="top:589.3px"><span>was brauche ich alles für raclette</span></div>
<div class="kw" style="top:637.3px"><span>was zum raclette</span></div>
<div class="kw" style="top:685.3px"><span>alles für raclette</span></div>
<div class="kw" style="top:733.3px"><span>was brauche ich für raclette</span></div>
<div class="kw" style="top:781.3px"><span>was gehört zum raclette</span></div>
<div class="kw" style="top:829.3px"><span>was brauche ich fürs raclette</span></div>
<div class="more">Zeige mehr <i class="tri"></i></div>
</div>
<div class="card" style="left:2068.5px;top:1480px">
<div class="ct">raclette käse pro person</div>
<div class="row" style="top:121.3px"><span class="lb">Traffic</span><span class="vl">12.373</span></div>
<div class="row" style="top:185.3px"><span class="lb">Klicks</span><span class="vl">10.616</span></div>
<div class="row" style="top:249.3px"><span class="lb">CPC</span><span class="vl">0,25 €</span></div>
<div class="row" style="top:313.3px"><span class="lb">Wettbewerb</span><span class="vl">36%</span></div>
<div class="chwrap"><svg class="chart" width="484" height="124" viewBox="0 0 483.5 124"><rect x="2.03" y="98.57" width="4" height="25.43" rx="2" fill="#66b30a"/><rect x="10.09" y="66.22" width="4" height="57.78" rx="2" fill="#559e06"/><rect x="18.15" y="99.33" width="4" height="24.67" rx="2" fill="#66b30a"/><rect x="26.20" y="106.46" width="4" height="17.54" rx="2" fill="#66b30a"/><rect x="34.26" y="107.48" width="4" height="16.52" rx="2" fill="#66b30a"/><rect x="42.32" y="111.30" width="4" height="12.70" rx="2" fill="#66b30a"/><rect x="50.38" y="112.32" width="4" height="11.68" rx="2" fill="#66b30a"/><rect x="58.44" y="113.34" width="4" height="10.66" rx="2" fill="#66b30a"/><rect x="66.50" y="113.34" width="4" height="10.66" rx="2" fill="#66b30a"/><rect x="74.55" y="112.32" width="4" height="11.68" rx="2" fill="#66b30a"/><rect x="82.61" y="111.30" width="4" height="12.70" rx="2" fill="#66b30a"/><rect x="90.67" y="102.39" width="4" height="21.61" rx="2" fill="#66b30a"/><rect x="98.73" y="95.51" width="4" height="28.49" rx="2" fill="#66b30a"/><rect x="106.79" y="62.40" width="4" height="61.60" rx="2" fill="#559e06"/><rect x="114.85" y="96.27" width="4" height="27.73" rx="2" fill="#66b30a"/><rect x="122.90" y="105.44" width="4" height="18.56" rx="2" fill="#66b30a"/><rect x="130.96" y="109.26" width="4" height="14.74" rx="2" fill="#66b30a"/><rect x="139.02" y="111.30" width="4" height="12.70" rx="2" fill="#66b30a"/><rect x="147.08" y="110.28" width="4" height="13.72" rx="2" fill="#66b30a"/><rect x="155.14" y="111.30" width="4" height="12.70" rx="2" fill="#66b30a"/><rect x="163.20" y="112.32" width="4" height="11.68" rx="2" fill="#66b30a"/><rect x="171.25" y="112.32" width="4" height="11.68" rx="2" fill="#66b30a"/><rect x="179.31" y="109.26" width="4" height="14.74" rx="2" fill="#66b30a"/><rect x="187.37" y="96.27" width="4" height="27.73" rx="2" fill="#66b30a"/><rect x="195.43" y="89.65" width="4" height="34.35" rx="2" fill="#66b30a"/><rect x="203.49" y="41.25" width="4" height="82.75" rx="2" fill="#559e06"/><rect x="211.55" y="96.27" width="4" height="27.73" rx="2" fill="#66b30a"/><rect x="219.60" y="102.39" width="4" height="21.61" rx="2" fill="#66b30a"/><rect x="227.66" y="104.42" width="4" height="19.58" rx="2" fill="#66b30a"/><rect x="235.72" y="107.48" width="4" height="16.52" rx="2" fill="#66b30a"/><rect x="243.78" y="109.26" width="4" height="14.74" rx="2" fill="#66b30a"/><rect x="251.84" y="112.32" width="4" height="11.68" rx="2" fill="#66b30a"/><rect x="259.90" y="112.32" width="4" height="11.68" rx="2" fill="#66b30a"/><rect x="267.95" y="111.30" width="4" height="12.70" rx="2" fill="#66b30a"/><rect x="276.01" y="109.26" width="4" height="14.74" rx="2" fill="#66b30a"/><rect x="284.07" y="98.57" width="4" height="25.43" rx="2" fill="#66b30a"/><rect x="292.13" y="87.36" width="4" height="36.64" rx="2" fill="#66b30a"/><rect x="300.19" y="16.29" width="4" height="107.71" rx="2" fill="#559e06"/><rect x="308.25" y="89.65" width="4" height="34.35" rx="2" fill="#66b30a"/><rect x="316.30" y="98.57" width="4" height="25.43" rx="2" fill="#66b30a"/><rect x="324.36" y="102.39" width="4" height="21.61" rx="2" fill="#66b30a"/><rect x="332.42" y="105.44" width="4" height="18.56" rx="2" fill="#66b30a"/><rect x="340.48" y="112.32" width="4" height="11.68" rx="2" fill="#66b30a"/><rect x="348.54" y="112.32" width="4" height="11.68" rx="2" fill="#66b30a"/><rect x="356.60" y="112.32" width="4" height="11.68" rx="2" fill="#66b30a"/><rect x="364.65" y="112.32" width="4" height="11.68" rx="2" fill="#66b30a"/><rect x="372.71" y="106.46" width="4" height="17.54" rx="2" fill="#66b30a"/><rect x="380.77" y="99.33" width="4" height="24.67" rx="2" fill="#66b30a"/><rect x="388.83" y="89.65" width="4" height="34.35" rx="2" fill="#66b30a"/><rect x="396.89" y="0.50" width="4" height="123.50" rx="2" fill="#559e06"/><rect x="404.95" y="87.36" width="4" height="36.64" rx="2" fill="#66b30a"/><rect x="413.00" y="96.27" width="4" height="27.73" rx="2" fill="#66b30a"/><rect x="421.06" y="100.35" width="4" height="23.65" rx="2" fill="#66b30a"/><rect x="429.12" y="105.44" width="4" height="18.56" rx="2" fill="#66b30a"/><rect x="437.18" y="110.28" width="4" height="13.72" rx="2" fill="#66b30a"/><rect x="445.24" y="112.32" width="4" height="11.68" rx="2" fill="#66b30a"/><rect x="453.30" y="111.30" width="4" height="12.70" rx="2" fill="#66b30a"/><rect x="461.35" y="107.48" width="4" height="16.52" rx="2" fill="#66b30a"/><rect x="469.41" y="105.44" width="4" height="18.56" rx="2" fill="#66b30a"/><rect x="477.47" y="93.47" width="4" height="30.53" rx="2" fill="#66b30a"/><rect x="0" y="122" width="483.5" height="2" fill="#ececec"/></svg></div>
<div class="enth">ENTHALTENE KEYWORDS (95)</div>
<div class="kw" style="top:589.3px"><span>wieviel raclette käse pro person</span></div>
<div class="kw" style="top:637.3px"><span>was für raclette einkaufen</span></div>
<div class="kw" style="top:685.3px"><span>raclette-fleisch pro person</span></div>
<div class="kw" style="top:733.3px"><span>käse raclette pro person</span></div>
<div class="kw" style="top:781.3px"><span>wieviel käse pro person bei raclette essen</span></div>
<div class="kw" style="top:829.3px"><span>wie viel fleisch für raclette</span></div>
<div class="more">Zeige mehr <i class="tri"></i></div>
</div>

<div class="abs" style="left:2468px;top:2367px;width:92px;height:92px;border-radius:50%;background:#fff;box-shadow:0 3px 8px rgba(0,0,0,.18)"></div>
<svg class="abs" style="left:2480px;top:2380px" width="70" height="70" viewBox="2480 2380 70 70">
  <path d="M2503 2405.5 C2506.5 2399 2510 2395.5 2515 2395.5 C2521 2395.5 2525.5 2399 2525.5 2404 C2525.5 2410.5 2514 2410.5 2514 2417 L2514 2420.5" fill="none" stroke="#1a6bd0" stroke-width="10" stroke-linecap="butt"/>
  <circle cx="2514" cy="2429.7" r="6" fill="#1a6bd0"/>
</svg>
</body></html>
